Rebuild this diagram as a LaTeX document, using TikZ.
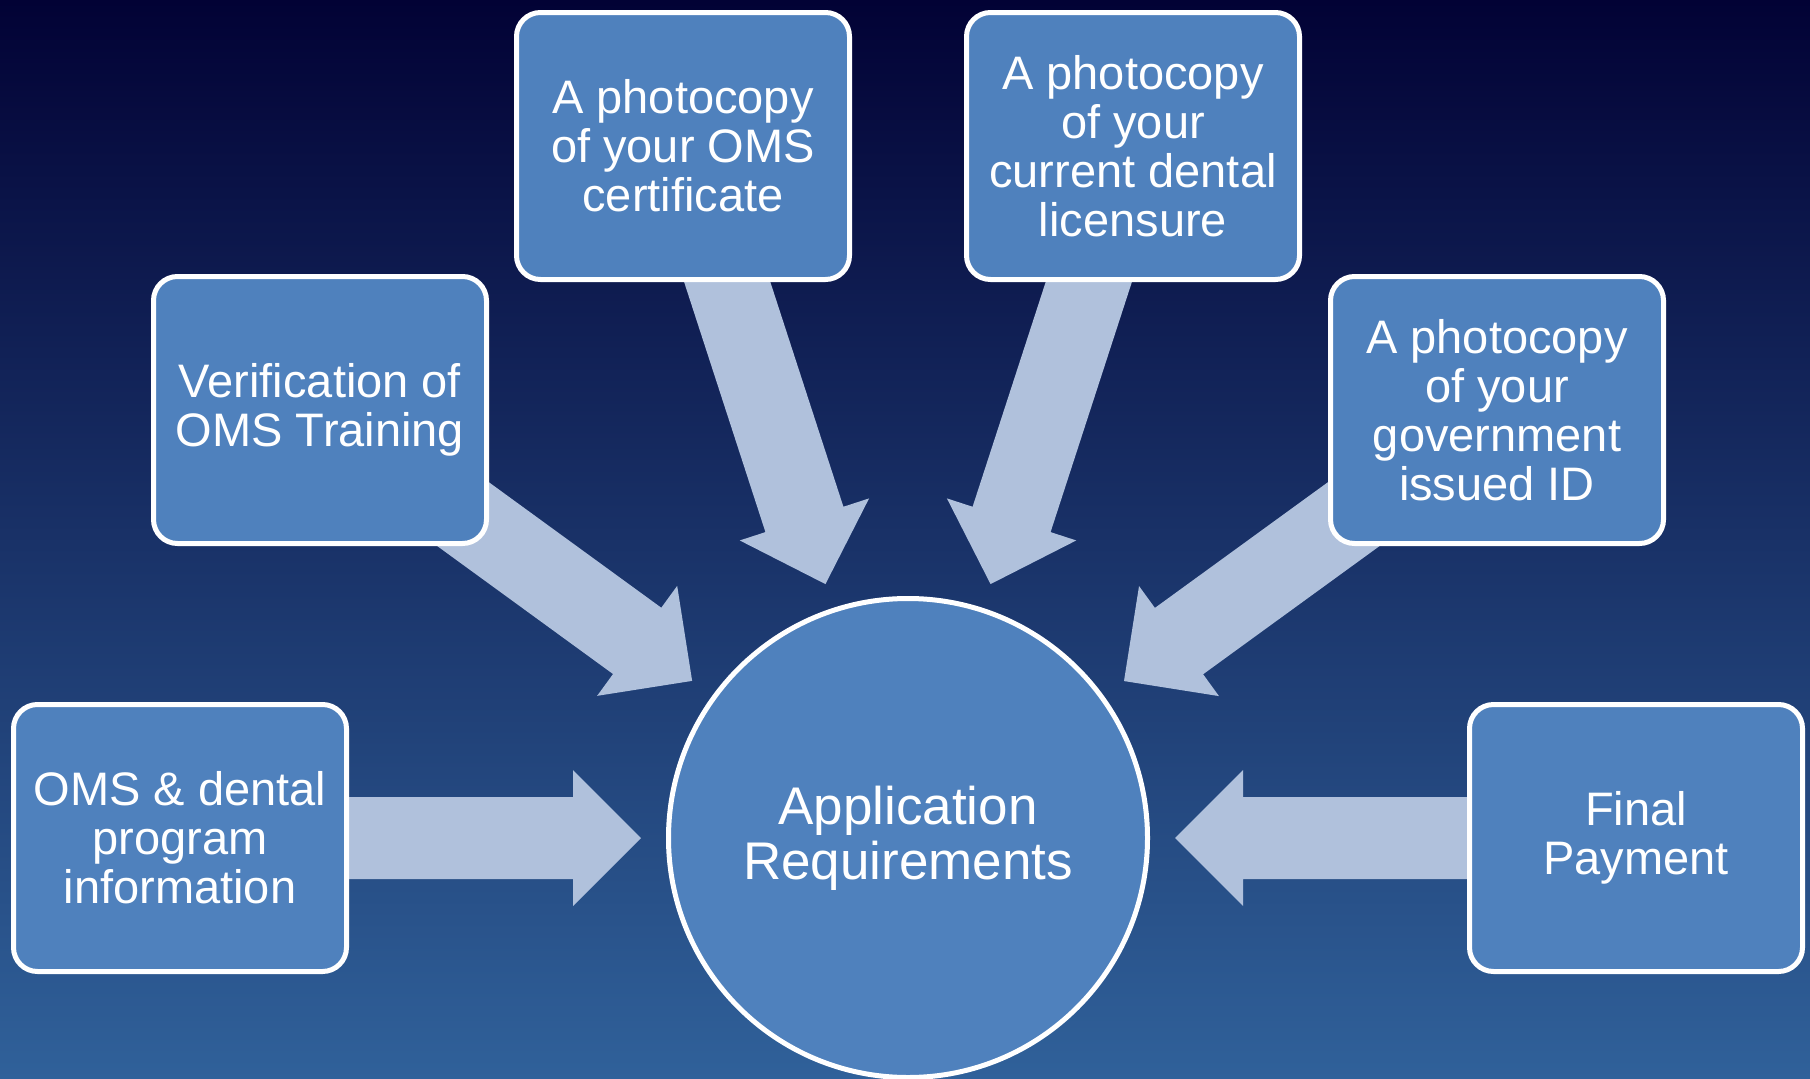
\documentclass[tikz,border=0pt]{standalone}
\usepackage{fontspec}
\setmainfont{Liberation Sans}
\usetikzlibrary{calc}
\pgfdeclarelayer{back}
\pgfdeclarelayer{arr}
\pgfsetlayers{back,arr,main}
\definecolor{boxblue}{HTML}{4F81BD}
\definecolor{arrowfill}{HTML}{B0C1DC}
\definecolor{bgtop}{HTML}{020235}
\definecolor{bgmid}{HTML}{182A64}
\definecolor{bgbot}{HTML}{30619A}
\tikzset{
  infobox/.style={draw=white, line width=5pt, fill=boxblue, rounded corners=24pt,
    minimum width=333pt, minimum height=267pt, align=center, text=white,
    font=\fontsize{47}{49}\selectfont, inner sep=0pt},
  hub/.style={circle, draw=white, line width=5pt, fill=boxblue, minimum size=479pt,
    align=center, text=white, font=\fontsize{53}{55}\selectfont, inner sep=0pt},
  blockarrow/.style={fill=arrowfill},
}
% #1 source node, #2 target node
\newcommand{\blkarrow}[2]{%
  \coordinate (T) at ($(#2.center)!267pt!(#1.center)$);
  \coordinate (B) at ($(T)!68pt!(#1.center)$);
  \fill[blockarrow] (T) -- ($(B)!68pt!90:(T)$) -- ($(B)!41pt!90:(T)$)
    -- ($(#1.center)!41pt!90:(B)$) -- ($(#1.center)!41pt!-90:(B)$)
    -- ($(B)!41pt!-90:(T)$) -- ($(B)!68pt!-90:(T)$) -- cycle;
}
\begin{document}
\begin{tikzpicture}[x=1pt,y=-1pt]
\useasboundingbox (0,0) rectangle (1810,1079);
\begin{pgfonlayer}{back}
\shade[top color=bgtop, middle color=bgmid, bottom color=bgbot] (0,0) rectangle (1810,1079);
\end{pgfonlayer}
\node[hub] (app) at (908,838) {Application\\Requirements};
\node[infobox] (b1) at (180,838) {OMS \& dental\\program\\information};
\node[infobox] (b2) at (320,410) {Verification of\\OMS Training};
\node[infobox] (b3) at (683,146) {A photocopy\\of your OMS\\certificate};
\node[infobox] (b4) at (1133,146) {A photocopy\\of your\\current dental\\licensure};
\node[infobox] (b5) at (1497,410) {A photocopy\\of your\\government\\issued ID};
\node[infobox] (b6) at (1636,838) {Final\\Payment};
\begin{pgfonlayer}{arr}
\foreach \b in {b1,b2,b3,b4,b5,b6} {\blkarrow{\b}{app}}
\end{pgfonlayer}
\end{tikzpicture}
\end{document}
